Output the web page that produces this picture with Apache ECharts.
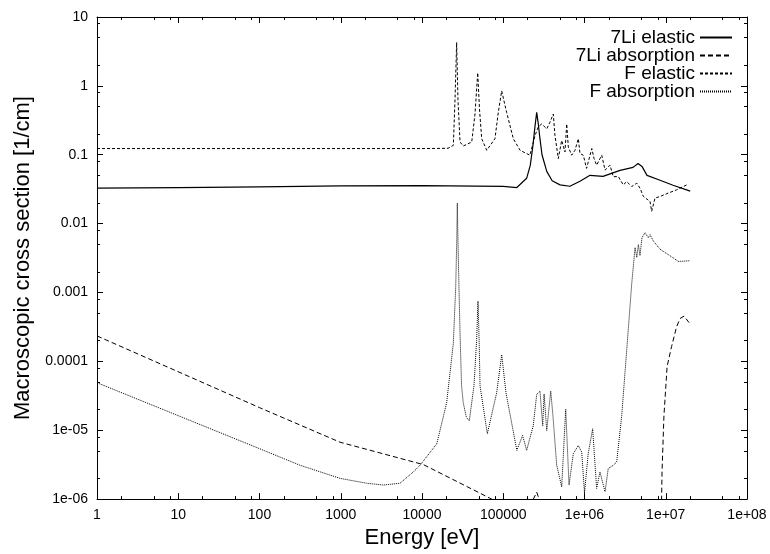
<!DOCTYPE html>
<html><head><meta charset="utf-8">
<script src="https://cdn.jsdelivr.net/npm/echarts@6/dist/echarts.min.js"></script>
<style>html,body{margin:0;padding:0;background:#fff}#c{width:770px;height:554px}</style>
</head><body><div id="c"></div>
<script>
// ---- tick definitions ----
const xTickValues = [1, 10, 100, 1000, 1e4, 1e5, 1e6, 1e7, 1e8];
const xTickLabels = ['1', '10', '100', '1000', '10000', '100000', '1e+06', '1e+07', '1e+08'];
const yTickValues = [1e-6, 1e-5, 1e-4, 1e-3, 1e-2, 0.1, 1, 10];
const yTickLabels = ['1e-06', '1e-05', '0.0001', '0.001', '0.01', '0.1', '1', '10'];
const minorMantissas = [2, 5, 8];

// ---- series names ----
const seriesNames = ['7Li elastic', '7Li absorption', 'F elastic', 'F absorption'];

// ---- 7Li elastic ----
const liElasticE = [1, 10, 100, 1000, 1e4, 1e5, 1.47e5, 1.94e5, 2.15e5, 2.32e5, 2.45e5, 2.58e5, 2.7e5, 2.83e5, 3.0e5, 3.43e5, 4.0e5, 5.0e5, 6.6e5, 8.8e5, 1.17e6, 1.69e6, 2.74e6, 3.96e6, 4.56e6, 5.1e6, 5.88e6, 8.5e6, 1.23e7, 2.0e7];
const liElasticV = [0.0327, 0.0333, 0.0342, 0.0352, 0.0357, 0.0348, 0.0334, 0.0455, 0.07, 0.137, 0.25, 0.413, 0.28, 0.171, 0.1, 0.0574, 0.042, 0.0365, 0.0349, 0.0412, 0.0502, 0.0486, 0.0593, 0.0655, 0.0748, 0.0677, 0.0502, 0.0426, 0.036, 0.0296];

// ---- 7Li absorption ----
const liAbsE = [1, 100, 980, 1.04e4, 5.17e4, 7.2e4, 1.2e5, 2.25e5, 2.58e5, 2.85e5, 4e5, 1e6, 5e6, 8.7e6, 9.0e6, 9.5e6, 1.04e7, 1.18e7, 1.36e7, 1.5e7, 1.68e7, 2.0e7];
const liAbsV = [2.34e-4, 2.13e-5, 6.7e-6, 3.17e-6, 1.22e-6, 1.0e-6, 6e-7, 9e-7, 1.26e-6, 9e-7, 5e-7, 3e-7, 2e-7, 2e-7, 2.5e-6, 1.62e-5, 8.5e-5, 1.64e-4, 3.18e-4, 4.19e-4, 4.54e-4, 3.48e-4];

// ---- F elastic ----
const fElasticE = [1, 1e2, 1e4, 2.09e4, 2.43e4, 2.55e4, 2.67e4, 2.77e4, 2.94e4, 3.22e4, 4.09e4, 4.49e4, 4.85e4, 5.1e4, 5.43e4, 6.26e4, 7.91e4, 8.69e4, 9.57e4, 1.1e5, 1.33e5, 1.61e5, 2.13e5, 2.46e5, 2.7e5, 2.97e5, 3.43e5, 3.76e5, 4.13e5, 4.33e5, 4.76e5, 5.24e5, 5.75e5, 6.04e5, 6.32e5, 6.96e5, 7.64e5, 8.39e5, 8.8e5, 9.67e5, 1.06e6, 1.23e6, 1.31e6, 1.41e6, 1.63e6, 1.79e6, 2.06e6, 2.26e6, 2.61e6, 3.0e6, 3.31e6, 3.81e6, 4.4e6, 4.82e6, 5.3e6, 6.4e6, 6.71e6, 7.38e6, 8.5e6, 1.07e7, 1.36e7, 1.81e7];
const fElasticV = [0.123, 0.123, 0.123, 0.124, 0.137, 0.64, 4.28, 0.64, 0.153, 0.134, 0.153, 0.39, 1.55, 0.46, 0.171, 0.116, 0.171, 0.413, 0.845, 0.413, 0.171, 0.116, 0.0984, 0.19, 0.254, 0.28, 0.238, 0.297, 0.39, 0.19, 0.088, 0.161, 0.11, 0.28, 0.13, 0.0984, 0.116, 0.171, 0.104, 0.0984, 0.0634, 0.123, 0.088, 0.0706, 0.0984, 0.0598, 0.0706, 0.0481, 0.0481, 0.0365, 0.0408, 0.0346, 0.0386, 0.0327, 0.0248, 0.021, 0.0151, 0.0235, 0.0248, 0.0277, 0.0309, 0.0365];

// ---- F absorption ----
const fAbsE = [1, 100, 315, 980, 2080, 3340, 5360, 7820, 9450, 1.52e4, 2.01e4, 2.43e4, 2.6e4, 2.68e4, 2.72e4, 2.77e4, 2.85e4, 2.94e4, 3.07e4, 3.22e4, 3.52e4, 3.82e4, 4.36e4, 4.7e4, 4.89e4, 5.05e4, 5.18e4, 6.37e4, 8.3e4, 9.57e4, 1.08e5, 1.47e5, 1.73e5, 1.94e5, 2.34e5, 2.58e5, 2.83e5, 3.06e5, 3.18e5, 3.43e5, 3.84e5, 4.09e5, 4.55e5, 5.24e5, 5.87e5, 6.45e5, 7.28e5, 8.39e5, 9.24e5, 1.0e6, 1.11e6, 1.26e6, 1.41e6, 1.55e6, 1.79e6, 1.96e6, 2.26e6, 2.49e6, 2.87e6, 3.31e6, 3.81e6, 4.19e6, 4.4e6, 4.6e6, 4.82e6, 5.1e6, 5.56e6, 6.1e6, 6.4e6, 7.03e6, 8.5e6, 1.13e7, 1.43e7, 1.99e7];
const fAbsV = [4.9e-5, 5.4e-6, 3.1e-6, 2.0e-6, 1.7e-6, 1.6e-6, 1.7e-6, 2.48e-6, 3.1e-6, 6.35e-6, 2.5e-5, 1.83e-4, 1.2e-3, 6e-3, 0.0199, 6e-3, 1.2e-3, 2.5e-4, 4.4e-5, 2.5e-5, 1.53e-5, 1.37e-5, 4.4e-5, 2e-4, 7.5e-4, 2e-4, 4.4e-5, 8.9e-6, 3.5e-5, 1.25e-4, 3.5e-5, 5.1e-6, 8.4e-6, 5.1e-6, 1.16e-5, 3.3e-5, 3.7e-5, 1.16e-5, 3.36e-5, 9.9e-6, 3.7e-5, 1.62e-5, 3.1e-6, 1.51e-6, 2.02e-5, 1.6e-6, 4.56e-6, 6.0e-6, 4.8e-6, 1.23e-6, 4.56e-6, 1.05e-5, 1.43e-6, 2.48e-6, 1.28e-6, 2.78e-6, 3.1e-6, 3.46e-6, 1.62e-5, 1.47e-4, 1.33e-3, 4.49e-3, 3.23e-3, 4.96e-3, 3.44e-3, 6.25e-3, 7.38e-3, 6.25e-3, 6.9e-3, 5.6e-3, 4.25e-3, 3.41e-3, 2.82e-3, 2.89e-3];

// ---- build helpers ----
function pairs(xs, ys) { return xs.map((x, i) => [x, ys[i]]); }
function minors(majors) {
  const out = [];
  for (let i = 0; i < majors.length - 1; i++) {
    minorMantissas.forEach(m => out.push(Number((m * majors[i]).toPrecision(3))));
  }
  return out;
}
const xMinor = minors(xTickValues);
const yMinor = minors(yTickValues);
function labelFor(values, labels) {
  return v => {
    const e = Math.round(Math.log10(v));
    for (let i = 0; i < values.length; i++) {
      if (Math.round(Math.log10(values[i])) === e) return labels[i];
    }
    return '';
  };
}

const FONT = 'Liberation Sans, Arial, Helvetica, sans-serif';
const BLACK = '#000';

function xAxisDef(pos, ticks, len, showLine, showLabel) {
  return {
    type: 'log', logBase: 10, min: 1, max: 1e8, position: pos, gridIndex: 0,
    axisLine: { show: showLine, lineStyle: { color: BLACK, width: 1 } },
    axisTick: { show: true, inside: true, length: len, customValues: ticks, lineStyle: { color: BLACK, width: 1 } },
    axisLabel: showLabel ? { show: true, customValues: xTickValues, formatter: labelFor(xTickValues, xTickLabels), color: BLACK, fontSize: 14, fontFamily: FONT, margin: 9 } : { show: false },
    splitLine: { show: false }, minorTick: { show: false }, minorSplitLine: { show: false }
  };
}
function yAxisDef(pos, ticks, len, showLine, showLabel) {
  return {
    type: 'log', logBase: 10, min: 1e-6, max: 10, position: pos, gridIndex: 0,
    axisLine: { show: showLine, lineStyle: { color: BLACK, width: 1 } },
    axisTick: { show: true, inside: true, length: len, customValues: ticks, lineStyle: { color: BLACK, width: 1 } },
    axisLabel: showLabel ? { show: true, customValues: yTickValues, formatter: labelFor(yTickValues, yTickLabels), color: BLACK, fontSize: 14, fontFamily: FONT, margin: 9 } : { show: false },
    splitLine: { show: false }, minorTick: { show: false }, minorSplitLine: { show: false }
  };
}

const xAxes = [
  Object.assign(xAxisDef('bottom', xTickValues, 6, true, true), {
    name: 'Energy [eV]', nameLocation: 'middle', nameGap: 26,
    nameTextStyle: { color: BLACK, fontSize: 22, fontFamily: FONT }
  }),
  xAxisDef('bottom', xMinor, 3, false, false),
  xAxisDef('top', xTickValues, 6, true, false),
  xAxisDef('top', xMinor, 3, false, false)
];
const yAxes = [
  Object.assign(yAxisDef('left', yTickValues, 6, true, true), {
    name: 'Macroscopic cross section [1/cm]', nameLocation: 'middle', nameGap: 63,
    nameTextStyle: { color: BLACK, fontSize: 22, fontFamily: FONT }
  }),
  yAxisDef('left', yMinor, 3, false, false),
  yAxisDef('right', yTickValues, 6, true, false),
  yAxisDef('right', yMinor, 3, false, false)
];

const styles = [
  { type: 'solid', width: 1.2 },
  { type: [5, 3], width: 1 },
  { type: [3, 2], width: 1 },
  { type: [1, 1], width: 1 }
];
const dataSets = [pairs(liElasticE, liElasticV), pairs(liAbsE, liAbsV), pairs(fElasticE, fElasticV), pairs(fAbsE, fAbsV)];

const series = seriesNames.map((name, i) => ({
  name, type: 'line', xAxisIndex: 0, yAxisIndex: 0, data: dataSets[i],
  showSymbol: false, symbol: 'none', smooth: false, clip: true,
  lineStyle: Object.assign({ color: BLACK }, styles[i]),
  itemStyle: { color: BLACK },
  emphasis: { disabled: true }
}));

const chart = echarts.init(document.getElementById('c'), null, { renderer: 'canvas' });
chart.setOption({
  animation: false,
  backgroundColor: '#fff',
  grid: { left: 97, right: 23, top: 17, bottom: 50, containLabel: false, show: false },
  legend: {
    data: seriesNames, orient: 'vertical', right: 32, top: 23, align: 'right',
    itemWidth: 32, itemHeight: 14, itemGap: -1,
    itemStyle: { opacity: 0 },
    textStyle: { color: BLACK, fontSize: 19, lineHeight: 18, fontFamily: FONT },
    selectedMode: false
  },
  xAxis: xAxes,
  yAxis: yAxes,
  series
});
</script>
</body></html>
